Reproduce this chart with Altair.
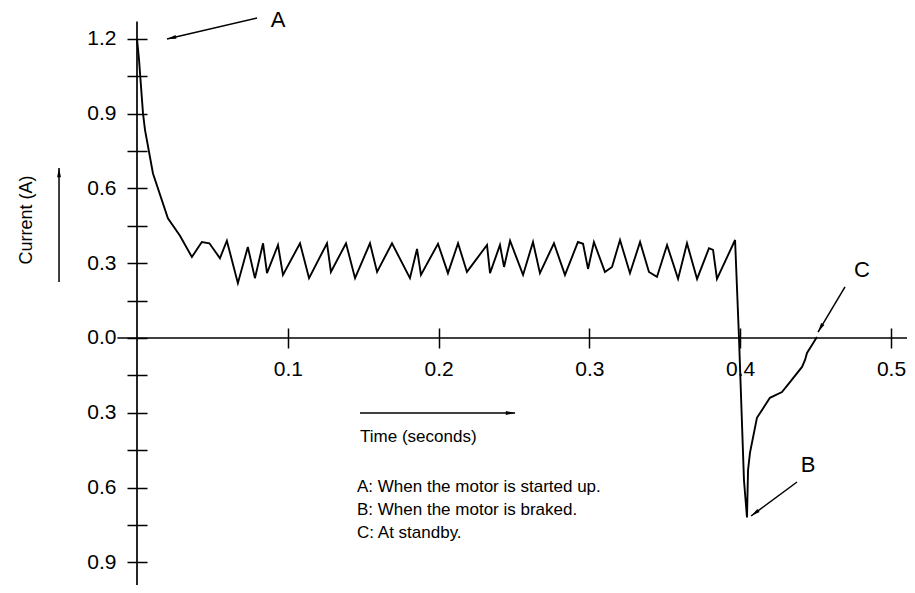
import math
import altair as alt
import pandas as pd

# ---- curve data (time in s, current in A) ----
time_s = [0.0, 0.0013, 0.004, 0.0053, 0.0106, 0.0205, 0.0285, 0.0364, 0.043, 0.048,
          0.055, 0.0596, 0.0669, 0.0735, 0.0782, 0.0836, 0.0862, 0.0935, 0.0968, 0.1081,
          0.1141, 0.126, 0.1286, 0.1386, 0.1446, 0.1545, 0.1592, 0.1691, 0.181, 0.1857,
          0.1883, 0.1996, 0.2062, 0.2129, 0.2188, 0.2321, 0.2341, 0.2407, 0.2434, 0.2474,
          0.256, 0.2626, 0.2672, 0.2765, 0.2838, 0.2924, 0.2958, 0.2991, 0.303, 0.3103,
          0.315, 0.3203, 0.3269, 0.3336, 0.3395, 0.3448, 0.3515, 0.3588, 0.3647, 0.3714,
          0.3793, 0.382, 0.3846, 0.3966, 0.3992, 0.4025, 0.4045, 0.4052, 0.4065, 0.4111,
          0.4197, 0.4277, 0.433, 0.441, 0.443, 0.4443, 0.4476, 0.4509]
current_a = [1.2, 1.12, 0.9, 0.835, 0.66, 0.48, 0.41, 0.325, 0.385, 0.38,
             0.32, 0.39, 0.22, 0.365, 0.24, 0.38, 0.26, 0.373, 0.253, 0.38,
             0.24, 0.38, 0.265, 0.38, 0.24, 0.38, 0.265, 0.38, 0.24, 0.357,
             0.253, 0.378, 0.26, 0.38, 0.265, 0.373, 0.26, 0.373, 0.285, 0.39,
             0.253, 0.385, 0.26, 0.38, 0.253, 0.385, 0.378, 0.277, 0.385, 0.265,
             0.285, 0.393, 0.26, 0.385, 0.265, 0.245, 0.373, 0.237, 0.38, 0.237,
             0.36, 0.353, 0.237, 0.393, 0.0, -0.57, -0.72, -0.53, -0.46, -0.32,
             -0.24, -0.217, -0.177, -0.116, -0.088, -0.06, -0.028, 0.004]

# ---- axis ticks ----
y_tick_values = [-0.9, -0.75, -0.6, -0.45, -0.3, -0.15, 0.0, 0.15, 0.3, 0.45, 0.6, 0.75, 0.9, 1.05, 1.2]
x_tick_values = [0.1, 0.2, 0.3, 0.4, 0.5]

# ---- annotations ----
letter_text = ["A", "B", "C"]
letter_t = [0.0935, 0.445, 0.4808]
letter_v = [1.2756, -0.509, 0.2728]

arrow_t1 = [0.0796, 0.4377, 0.4695, 0.1479, -0.0517]
arrow_v1 = [1.2836, -0.5776, 0.2046, -0.3008, 0.2246]
arrow_t2 = [0.0199, 0.4072, 0.4516, 0.2507, -0.0517]
arrow_v2 = [1.1994, -0.714, 0.024, -0.3008, 0.682]

legend_text = ["A:  When the motor is started up.", "B:  When the motor is braked.", "C:  At standby."]
legend_t = [0.1459, 0.1459, 0.1459]
legend_v = [-0.598, -0.69, -0.782]

time_title = "Time (seconds)"
time_title_t = 0.1479
time_title_v = -0.397
current_title = "Current (A)"
current_title_t = -0.0729
current_title_v = 0.473

# axis lines (data coordinates)
axis_t1 = [0.0, -0.013]
axis_t2 = [0.0, 0.511]
axis_v1 = [-1.0, 0.0]
axis_v2 = [1.27, 0.0]

# ---- layout ----
W, H = 899, 577
x_dom = [-0.08554, 0.51061]
y_dom = [-0.9908, 1.3237]
X0_PX = W * (0 - x_dom[0]) / (x_dom[1] - x_dom[0])
Y0_PX = H * (y_dom[1] - 0) / (y_dom[1] - y_dom[0])
xs = alt.Scale(domain=x_dom, nice=False, zero=False)
ys = alt.Scale(domain=y_dom, nice=False, zero=False)
FONT = "Liberation Sans"

kx = W / (x_dom[1] - x_dom[0])
ky = H / (y_dom[1] - y_dom[0])
angles = []
for a, b, c, d in zip(arrow_t1, arrow_v1, arrow_t2, arrow_v2):
    dx = (c - a) * kx
    dy = -(d - b) * ky
    angles.append(math.degrees(math.atan2(dx, -dy)) % 360)

curve = pd.DataFrame({"t": time_s, "v": current_a, "i": list(range(len(time_s)))})
arrows = pd.DataFrame({"t1": arrow_t1, "v1": arrow_v1, "t2": arrow_t2, "v2": arrow_v2, "ang": angles})
letters = pd.DataFrame({"t": letter_t, "v": letter_v, "s": letter_text})
legend = pd.DataFrame({"t": legend_t + [time_title_t], "v": legend_v + [time_title_v],
                       "s": legend_text + [time_title]})
ctitle = pd.DataFrame({"t": [current_title_t], "v": [current_title_v], "s": [current_title]})
axes_df = pd.DataFrame({"t1": axis_t1, "t2": axis_t2, "v1": axis_v1, "v2": axis_v2})

label_expr_y = "abs(round(datum.value*100)) % 30 == 0 ? format(abs(datum.value), '.1f') : ''"

left_axis = alt.Axis(values=y_tick_values, labelExpr=label_expr_y, orient="left",
                     offset=-X0_PX, tickSize=10, tickWidth=1.5, tickColor="black",
                     domain=False, grid=False, title=None, labelFont=FONT, labelFontSize=21,
                     labelColor="black", labelPadding=11, labelOverlap=False)
right_axis = alt.Axis(values=y_tick_values, orient="right", offset=-(W - X0_PX),
                      tickSize=10, tickWidth=1.5, tickColor="black", labels=False,
                      domain=False, grid=False, title=None)
bottom_axis = alt.Axis(values=x_tick_values, format=".1f", orient="bottom",
                       offset=-(H - Y0_PX), tickSize=10, tickWidth=1.5, tickColor="black",
                       domain=False, grid=False, title=None, labelFont=FONT, labelFontSize=21,
                       labelColor="black", labelPadding=11, labelOverlap=False)
top_axis = alt.Axis(values=x_tick_values, orient="top", offset=-Y0_PX,
                    tickSize=10, tickWidth=1.5, tickColor="black", labels=False,
                    domain=False, grid=False, title=None)

line = alt.Chart(curve).mark_line(color="black", strokeWidth=1.9).encode(
    x=alt.X("t:Q", scale=xs, axis=bottom_axis),
    y=alt.Y("v:Q", scale=ys, axis=left_axis),
    order="i:Q",
)

axis_rules = alt.Chart(axes_df).mark_rule(color="black", strokeWidth=1.7).encode(
    x=alt.X("t1:Q", scale=xs, axis=top_axis),
    x2="t2:Q",
    y=alt.Y("v1:Q", scale=ys, axis=right_axis),
    y2="v2:Q",
)

arrow_lines = alt.Chart(arrows).mark_rule(color="black", strokeWidth=1.5).encode(
    x=alt.X("t1:Q", scale=xs, axis=None), x2="t2:Q",
    y=alt.Y("v1:Q", scale=ys, axis=None), y2="v2:Q",
)
arrow_heads = alt.Chart(arrows).mark_point(
    shape="M0,0L0.42,2L-0.42,2Z", filled=True, color="black", size=85, opacity=1
).encode(
    x=alt.X("t2:Q", scale=xs, axis=None),
    y=alt.Y("v2:Q", scale=ys, axis=None),
    angle=alt.Angle("ang:Q", scale=None),
)

letter_marks = alt.Chart(letters).mark_text(font=FONT, fontSize=22, color="black",
                                            align="center", baseline="middle").encode(
    x=alt.X("t:Q", scale=xs, axis=None), y=alt.Y("v:Q", scale=ys, axis=None), text="s:N")

legend_marks = alt.Chart(legend).mark_text(font=FONT, fontSize=17, color="black",
                                           align="left", baseline="middle").encode(
    x=alt.X("t:Q", scale=xs, axis=None), y=alt.Y("v:Q", scale=ys, axis=None), text="s:N")

ctitle_mark = alt.Chart(ctitle).mark_text(font=FONT, fontSize=18, color="black", angle=270,
                                          align="center", baseline="middle").encode(
    x=alt.X("t:Q", scale=xs, axis=None), y=alt.Y("v:Q", scale=ys, axis=None), text="s:N")

chart = alt.layer(line, axis_rules, arrow_lines, arrow_heads, letter_marks, legend_marks,
                  ctitle_mark).resolve_scale(x="shared", y="shared").resolve_axis(
    x="independent", y="independent"
).properties(
    width=W, height=H, padding=0, autosize=alt.AutoSizeParams(type="none"),
    background="white",
).configure_view(stroke=None)

chart.save("out.html", embed_options={"renderer": "svg", "actions": False})
